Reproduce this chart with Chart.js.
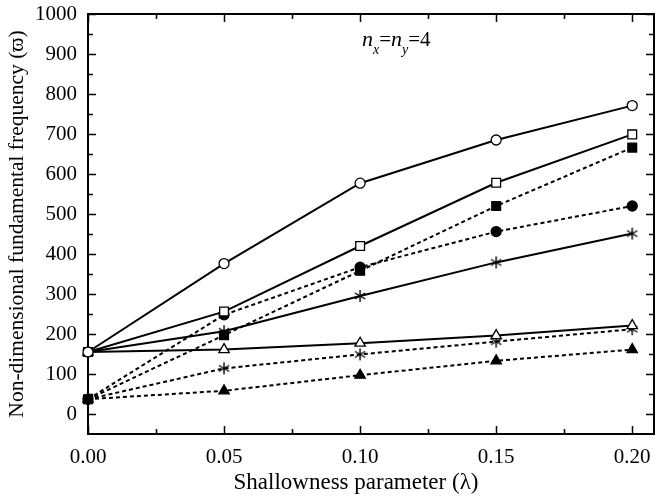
<!DOCTYPE html>
<html>
<head>
<meta charset="utf-8">
<script src="https://cdn.jsdelivr.net/npm/chart.js@4.4.0/dist/chart.umd.min.js"></script>
<style>
  html, body { margin: 0; padding: 0; background: #fff; }
  #wrap { width: 656px; height: 500px; }
</style>
</head>
<body>
<div id="wrap"><canvas id="clx"></canvas></div>
<script>
// shallowness parameter values
const lambdas = [0.00, 0.05, 0.10, 0.15, 0.20];

// series values
const openCircle   = [155, 376, 577, 685, 771];
const openSquare   = [155, 256, 420, 578, 699];
const filledSquare = [37, 197, 358, 520, 666];
const filledCircle = [37, 248, 367, 456, 520];
const starSolid    = [155, 207, 295, 379, 451];
const openTriangle = [155, 161, 177, 196, 221];
const starDashed   = [37, 114, 149, 181, 212];
const filledTri    = [37, 58, 97, 133, 161];

// tick labels
const xTicks = [0.00, 0.05, 0.10, 0.15, 0.20];
const yTicks = [0, 100, 200, 300, 400, 500, 600, 700, 800, 900, 1000];

const FONT = 'Liberation Serif, Times New Roman, serif';

// six-armed asterisk marker
function makeAsterisk() {
  const c = document.createElement('canvas');
  c.width = 14; c.height = 14;
  const g = c.getContext('2d');
  g.strokeStyle = '#000';
  g.lineWidth = 1.4;
  g.beginPath();
  const r = 6;
  [90, 30, -30].forEach(deg => {
    const a = deg * Math.PI / 180;
    g.moveTo(7 - r * Math.cos(a), 7 - r * Math.sin(a));
    g.lineTo(7 + r * Math.cos(a), 7 + r * Math.sin(a));
  });
  g.stroke();
  return c;
}
const asterisk = makeAsterisk();

const markerRadius = { circle: 5, rect: 6.2, triangle: 6 };

function series(vals, style, fill, dashed) {
  return {
    data: vals.map((v, i) => ({ x: lambdas[i], y: v })),
    borderColor: '#000',
    borderWidth: 2,
    borderDash: dashed ? [4, 3] : [],
    pointStyle: style,
    pointRadius: markerRadius[style] || 6,
    pointBorderWidth: 1.3,
    pointBorderColor: '#000',
    pointBackgroundColor: fill ? '#000' : '#fff',
    tension: 0,
    clip: false
  };
}

// frame with inward ticks on all four sides, x title and the n_x=n_y=4 note
const framePlugin = {
  id: 'frame',
  beforeDatasetsDraw(chart) {
    const { ctx, chartArea: a, scales: { x, y } } = chart;
    ctx.save();
    ctx.strokeStyle = '#000';
    ctx.lineWidth = 2;
    ctx.strokeRect(a.left, a.top, a.right - a.left, a.bottom - a.top);
    ctx.lineWidth = 1.5;
    ctx.beginPath();
    for (let v = 0; v <= 0.2001; v += 0.025) {
      const px = Math.round(x.getPixelForValue(v)) + 0.5;
      const len = Math.abs(v / 0.05 - Math.round(v / 0.05)) < 1e-6 ? 8 : 5;
      ctx.moveTo(px, a.bottom); ctx.lineTo(px, a.bottom - len);
      ctx.moveTo(px, a.top); ctx.lineTo(px, a.top + len);
    }
    for (let v = 0; v <= 1000; v += 50) {
      const py = Math.round(y.getPixelForValue(v)) + 0.5;
      const len = v % 100 === 0 ? 8 : 5;
      ctx.moveTo(a.left, py); ctx.lineTo(a.left + len, py);
      ctx.moveTo(a.right, py); ctx.lineTo(a.right - len, py);
    }
    ctx.stroke();
    ctx.restore();
  },
  afterDraw(chart) {
    const { ctx } = chart;
    ctx.save();
    ctx.fillStyle = '#000';
    ctx.textBaseline = 'alphabetic';

    ctx.font = '23px ' + FONT;
    ctx.textAlign = 'center';
    ctx.fillText('Shallowness parameter (\u03bb)', 356, 489);

    ctx.textAlign = 'left';
    let cx = 362;
    const base = 46;
    const parts = [
      ['italic 22px ' + FONT, 'n', 0],
      ['italic 14px ' + FONT, 'x', 8],
      ['21px ' + FONT, '=', 0],
      ['italic 22px ' + FONT, 'n', 0],
      ['italic 14px ' + FONT, 'y', 8],
      ['21px ' + FONT, '=4', 0]
    ];
    parts.forEach(([f, t, dy]) => {
      ctx.font = f;
      ctx.fillText(t, cx, base + dy);
      cx += ctx.measureText(t).width;
    });
    ctx.restore();
  }
};

const config = {
  type: 'line',
  data: {
    datasets: [
      series(openCircle, 'circle', false, false),
      series(openSquare, 'rect', false, false),
      series(filledSquare, 'rect', true, true),
      series(filledCircle, 'circle', true, true),
      series(starSolid, asterisk, false, false),
      series(openTriangle, 'triangle', false, false),
      series(starDashed, asterisk, false, true),
      series(filledTri, 'triangle', true, true)
    ]
  },
  options: {
    responsive: true,
    maintainAspectRatio: false,
    animation: false,
    layout: { autoPadding: false, padding: { top: 14, right: 2, left: 0, bottom: 0 } },
    plugins: { legend: { display: false }, tooltip: { enabled: false } },
    scales: {
      x: {
        type: 'linear',
        min: 0,
        max: 0.208,
        afterBuildTicks: s => { s.ticks = xTicks.map(v => ({ value: v })); },
        afterFit: s => { s.height = 66; s.paddingLeft = 0; s.paddingRight = 0; },
        grid: { display: false, drawTicks: false },
        border: { display: false },
        ticks: {
          color: '#000',
          padding: 11,
          maxRotation: 0,
          font: { family: FONT, size: 21 },
          callback: v => v.toFixed(2)
        }
      },
      y: {
        min: -50,
        max: 1000,
        afterBuildTicks: s => { s.ticks = yTicks.map(v => ({ value: v })); },
        afterFit: s => { s.width = 88; s.paddingTop = 0; s.paddingBottom = 0; },
        grid: { display: false, drawTicks: false },
        border: { display: false },
        ticks: {
          color: '#000',
          padding: 11,
          font: { family: FONT, size: 21 },
          callback: v => String(v)
        },
        title: {
          display: true,
          text: 'Non-dimensional fundamental frequency (\u03d6)',
          color: '#000',
          padding: { top: 4, bottom: 0 },
          font: { family: FONT, size: 21.5 }
        }
      }
    }
  },
  plugins: [framePlugin]
};

new Chart(document.getElementById('clx'), config);
</script>
</body>
</html>
